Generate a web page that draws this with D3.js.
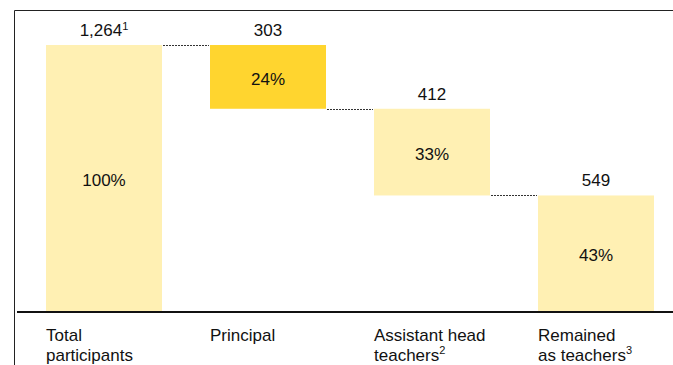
<!DOCTYPE html>
<html>
<head>
<meta charset="utf-8">
<script src="https://cdn.jsdelivr.net/npm/d3@7"></script>
<style>
  body { margin: 0; background: #fff; }
  svg { display: block; font-family: "Liberation Sans", Arial, sans-serif; }
</style>
</head>
<body>
<div id="chart"></div>
<script>
// Waterfall data
const categories = ["Total participants", "Principal", "Assistant head teachers", "Remained as teachers"];
const labelLines = [["Total", "participants"], ["Principal"], ["Assistant head", "teachers"], ["Remained", "as teachers"]];
const labelNotes = ["", "", "2", "3"];
const values = [1264, 303, 412, 549];
const valueLabels = ["1,264", "303", "412", "549"];
const valueNotes = ["1", "", "", ""];
const shares = ["100%", "24%", "33%", "43%"];
const fills = ["#FFF0B3", "#FFD52F", "#FFF0B3", "#FFF0B3"];

const width = 673, height = 365;
const fontSize = 17;

const svg = d3.select("#chart")
    .append("svg")
    .attr("width", width)
    .attr("height", height);

// frame (left + top)
svg.append("path")
    .attr("d", "M14.5,365 V10.5 H673")
    .attr("fill", "none")
    .attr("stroke", "#222")
    .attr("stroke-width", 1);

const x = d3.scaleBand()
    .domain(categories)
    .range([46, 654])
    .paddingInner(48 / 164)
    .paddingOuter(0);

const y = d3.scaleLinear()
    .domain([0, 1264])
    .range([311, 45]);

// build waterfall segments: first bar is total, the rest stack downwards
let running = values[0];
const bars = categories.map((c, i) => {
    if (i === 0) return { c, i, top: values[0], bottom: 0 };
    const top = running;
    running -= values[i];
    return { c, i, top, bottom: running };
});

const g = svg.append("g");

g.selectAll("rect.bar")
    .data(bars)
    .join("rect")
    .attr("class", "bar")
    .attr("x", d => x(d.c))
    .attr("y", d => y(d.top))
    .attr("width", x.bandwidth())
    .attr("height", d => y(d.bottom) - y(d.top))
    .attr("fill", d => fills[d.i]);

// dashed connectors
g.selectAll("line.conn")
    .data(bars.slice(1))
    .join("line")
    .attr("class", "conn")
    .attr("x1", d => x(categories[d.i - 1]) + x.bandwidth() + 1)
    .attr("x2", d => x(d.c) - 1)
    .attr("y1", d => Math.round(y(d.top)) + 0.5)
    .attr("y2", d => Math.round(y(d.top)) + 0.5)
    .attr("stroke", "#333")
    .attr("stroke-width", 1)
    .attr("stroke-dasharray", "2,1");

// value labels above bars
const vl = g.selectAll("text.val")
    .data(bars)
    .join("text")
    .attr("class", "val")
    .attr("x", d => x(d.c) + x.bandwidth() / 2)
    .attr("y", d => y(d.top) - 9)
    .attr("text-anchor", "middle")
    .attr("font-size", fontSize)
    .attr("fill", "#111");
vl.append("tspan").text(d => valueLabels[d.i]);
vl.filter(d => valueNotes[d.i]).append("tspan")
    .attr("font-size", 11)
    .attr("dy", -6)
    .text(d => valueNotes[d.i]);

// percentage inside bars
g.selectAll("text.pct")
    .data(bars)
    .join("text")
    .attr("class", "pct")
    .attr("x", d => x(d.c) + x.bandwidth() / 2)
    .attr("y", d => (y(d.top) + y(d.bottom)) / 2 + 2)
    .attr("dy", "0.36em")
    .attr("text-anchor", "middle")
    .attr("font-size", fontSize)
    .attr("fill", "#111")
    .text(d => shares[d.i]);

// baseline
svg.append("line")
    .attr("x1", 17).attr("x2", width)
    .attr("y1", 312).attr("y2", 312)
    .attr("stroke", "#111")
    .attr("stroke-width", 2);

// category labels
const cl = svg.selectAll("text.cat")
    .data(categories)
    .join("text")
    .attr("class", "cat")
    .attr("x", d => x(d))
    .attr("y", 341)
    .attr("font-size", fontSize)
    .attr("fill", "#111");
cl.each(function (d, i) {
    const t = d3.select(this);
    labelLines[i].forEach((line, k) => {
        t.append("tspan")
            .attr("x", x(d))
            .attr("y", 341 + k * 20)
            .text(line);
    });
    if (labelNotes[i]) {
        t.append("tspan")
            .attr("font-size", 11)
            .attr("dy", -7)
            .text(labelNotes[i]);
    }
});
</script>
</body>
</html>
